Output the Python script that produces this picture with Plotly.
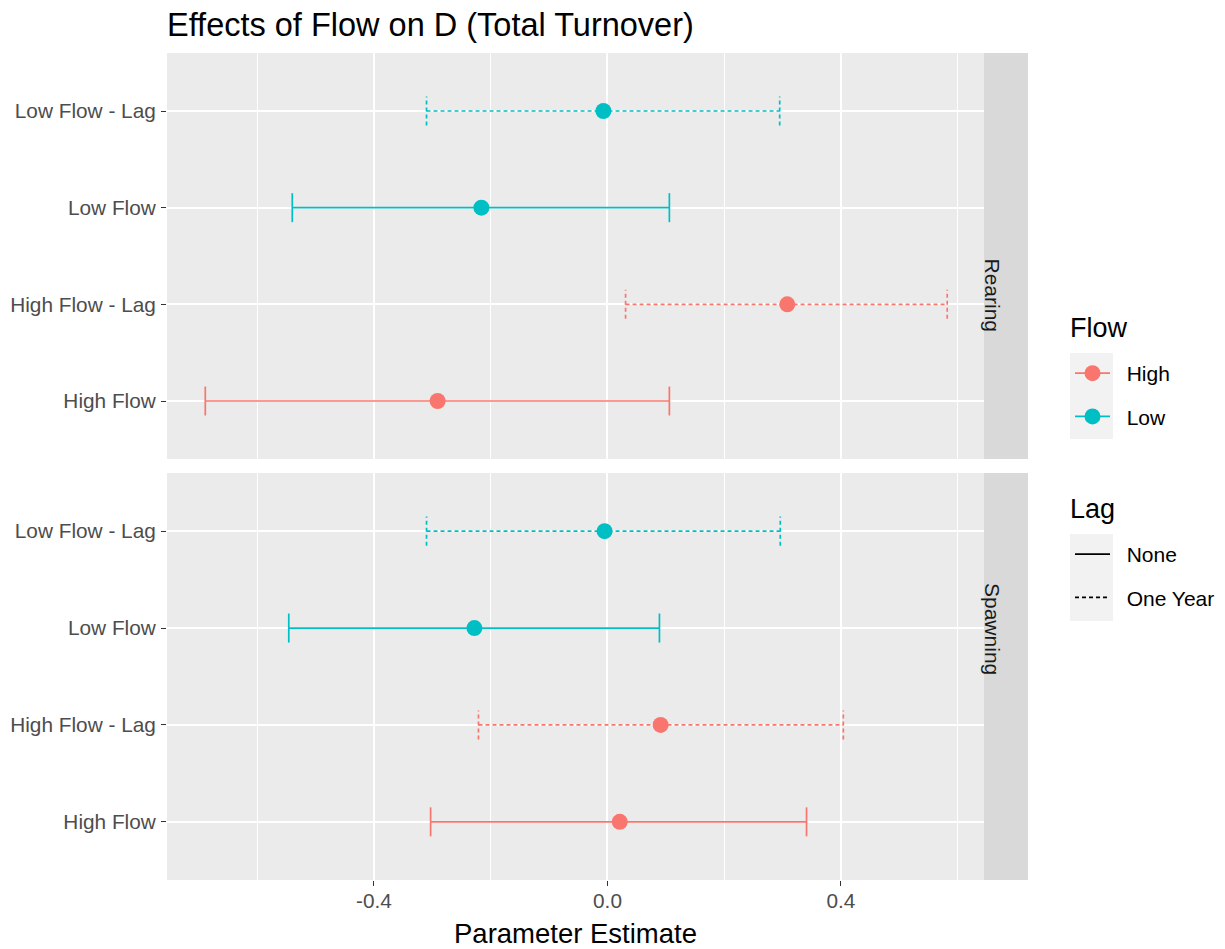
import plotly.graph_objects as go
from plotly.subplots import make_subplots

# ---- data ----
categories = ["High Flow", "High Flow - Lag", "Low Flow", "Low Flow - Lag"]
flow_of_cat = ["High", "High", "Low", "Low"]
lag_of_cat = ["None", "One Year", "None", "One Year"]

facets = ["Rearing", "Spawning"]
rearing_est = [-0.291, 0.308, -0.216, -0.007]
rearing_lo = [-0.689, 0.031, -0.540, -0.310]
rearing_hi = [0.106, 0.582, 0.106, 0.295]
spawning_est = [0.021, 0.091, -0.228, -0.005]
spawning_lo = [-0.303, -0.221, -0.546, -0.310]
spawning_hi = [0.341, 0.404, 0.089, 0.296]

x_ticks = [-0.4, 0.0, 0.4]
x_tick_labels = ["-0.4", "0.0", "0.4"]
x_minor = [-0.6, -0.2, 0.2, 0.6]

flow_levels = ["High", "Low"]
lag_levels = ["None", "One Year"]
flow_colors = {"High": "#F8766D", "Low": "#00BFC4"}
lag_dash = {"None": "solid", "One Year": "4px,3px"}

FONT = "Liberation Sans, Arial, sans-serif"
CAP = 0.15
NB = "\u00a0\u00a0"

fig = make_subplots(rows=2, cols=1, shared_xaxes=True, vertical_spacing=0.0)

facet_data = [
    (rearing_est, rearing_lo, rearing_hi),
    (spawning_est, spawning_lo, spawning_hi),
]

for r, (est, lo, hi) in enumerate(facet_data, start=1):
    for i, cat in enumerate(categories):
        yv = i + 1
        col = flow_colors[flow_of_cat[i]]
        dash = lag_dash[lag_of_cat[i]]
        xs = [lo[i], hi[i], None, lo[i], lo[i], None, hi[i], hi[i]]
        ys = [yv, yv, None, yv - CAP, yv + CAP, None, yv - CAP, yv + CAP]
        fig.add_trace(go.Scatter(x=xs, y=ys, mode="lines",
                                 line=dict(color=col, width=1.7, dash=dash),
                                 showlegend=False, hoverinfo="skip"), row=r, col=1)
        fig.add_trace(go.Scatter(x=[est[i]], y=[yv], mode="markers",
                                 marker=dict(color=col, size=16),
                                 showlegend=False), row=r, col=1)

# legend dummies
for f in flow_levels:
    fig.add_trace(go.Scatter(x=[None], y=[None], mode="lines+markers", name=NB + f,
                             line=dict(color=flow_colors[f], width=1.7),
                             marker=dict(color=flow_colors[f], size=16),
                             legend="legend", legendgroup=f), row=1, col=1)
for l in lag_levels:
    fig.add_trace(go.Scatter(x=[None], y=[None], mode="lines", name=NB + l,
                             line=dict(color="black", width=1.7, dash=lag_dash[l]),
                             legend="legend2", legendgroup=l), row=1, col=1)

# geometry: reference pixel coords; page body has an 8px offset
OFF = 8
W, H = 1225 - OFF, 949 - OFF
ml = 167 - OFF
mt = 53 - OFF
mr = W - (1028 - OFF)
mb = H - (880 - OFF)
pw = W - ml - mr
ph = H - mt - mb
def px_x(p):
    return (p - OFF - ml) / pw
def px_y(p):
    return (H - mb - (p - OFF)) / ph

panel_right = px_x(984)
top_dom = [px_y(459), 1.0]
bot_dom = [0.0, px_y(473)]

TICKFONT = dict(family=FONT, size=20.8, color="#4d4d4d")

xaxis_common = dict(
    range=[-0.7546, 0.645], domain=[0, panel_right], automargin=False,
    tickvals=x_ticks, ticktext=x_tick_labels,
    showgrid=True, gridcolor="white", gridwidth=1.5,
    minor=dict(tickvals=x_minor, showgrid=True, gridcolor="white", gridwidth=0.8),
    zeroline=False, showline=False,
    ticks="outside", ticklen=5, tickwidth=1.1, tickcolor="#333333",
    tickfont=TICKFONT, ticklabelstandoff=-3,
)
fig.update_xaxes(**xaxis_common)
fig.update_xaxes(showticklabels=False, ticks="", row=1, col=1)

yaxis_common = dict(
    range=[0.4, 4.6], tickvals=[1, 2, 3, 4], ticktext=categories, automargin=False,
    showgrid=True, gridcolor="white", gridwidth=1.5, zeroline=False,
    ticks="outside", ticklen=5, tickwidth=1.1, tickcolor="#333333",
    tickfont=TICKFONT, ticklabelstandoff=1,
)
fig.update_yaxes(**yaxis_common)
fig.update_yaxes(domain=top_dom, row=1, col=1)
fig.update_yaxes(domain=bot_dom, row=2, col=1)

shapes = []
annotations = []
for dom, name in [(top_dom, "Rearing"), (bot_dom, "Spawning")]:
    shapes.append(dict(type="rect", xref="paper", yref="paper",
                       x0=panel_right, x1=1.0, y0=dom[0], y1=dom[1],
                       fillcolor="#D9D9D9", line=dict(width=0), layer="below"))
    annotations.append(dict(xref="paper", yref="paper", x=(panel_right + 1.0) / 2,
                            y=(dom[0] + dom[1]) / 2, text=name, textangle=90,
                            showarrow=False, font=dict(family=FONT, size=21, color="#1a1a1a")))

# x-axis title
annotations.append(dict(xref="paper", yref="paper", x=panel_right / 2, y=px_y(933),
                        yanchor="middle", xanchor="center", showarrow=False,
                        text="Parameter Estimate", font=dict(family=FONT, size=27.5, color="black")))
# legend titles
for txt, yp in [("Flow", 328), ("Lag", 509)]:
    annotations.append(dict(xref="paper", yref="paper", x=px_x(1068), y=px_y(yp),
                            xanchor="left", yanchor="middle", showarrow=False,
                            text=txt, font=dict(family=FONT, size=27, color="black")))

# legend key backgrounds
for y0p, y1p in [(353, 439), (534, 621)]:
    shapes.append(dict(type="rect", xref="paper", yref="paper",
                       x0=px_x(1070), x1=px_x(1113), y0=px_y(y1p), y1=px_y(y0p),
                       fillcolor="#F2F2F2", line=dict(width=0), layer="below"))

fig.update_layout(
    width=W, height=H,
    margin=dict(l=ml, r=mr, t=mt, b=mb, autoexpand=False),
    paper_bgcolor="white", plot_bgcolor="#EBEBEB",
    font=dict(family=FONT),
    title=dict(text="Effects of Flow on D (Total Turnover)", x=0, xref="paper", xanchor="left",
               y=1 - (25 - OFF) / H, yanchor="middle", font=dict(family=FONT, size=32.5, color="black")),
    shapes=shapes, annotations=annotations,
    legend=dict(x=px_x(1070), xanchor="left", y=px_y(353), yanchor="top",
                font=dict(family=FONT, size=21, color="black"), bgcolor="rgba(0,0,0,0)",
                itemwidth=35, tracegroupgap=13),
    legend2=dict(x=px_x(1070), xanchor="left", y=px_y(534), yanchor="top",
                 font=dict(family=FONT, size=21, color="black"), bgcolor="rgba(0,0,0,0)",
                 itemwidth=35, tracegroupgap=13),
)

fig.write_html("out.html")
